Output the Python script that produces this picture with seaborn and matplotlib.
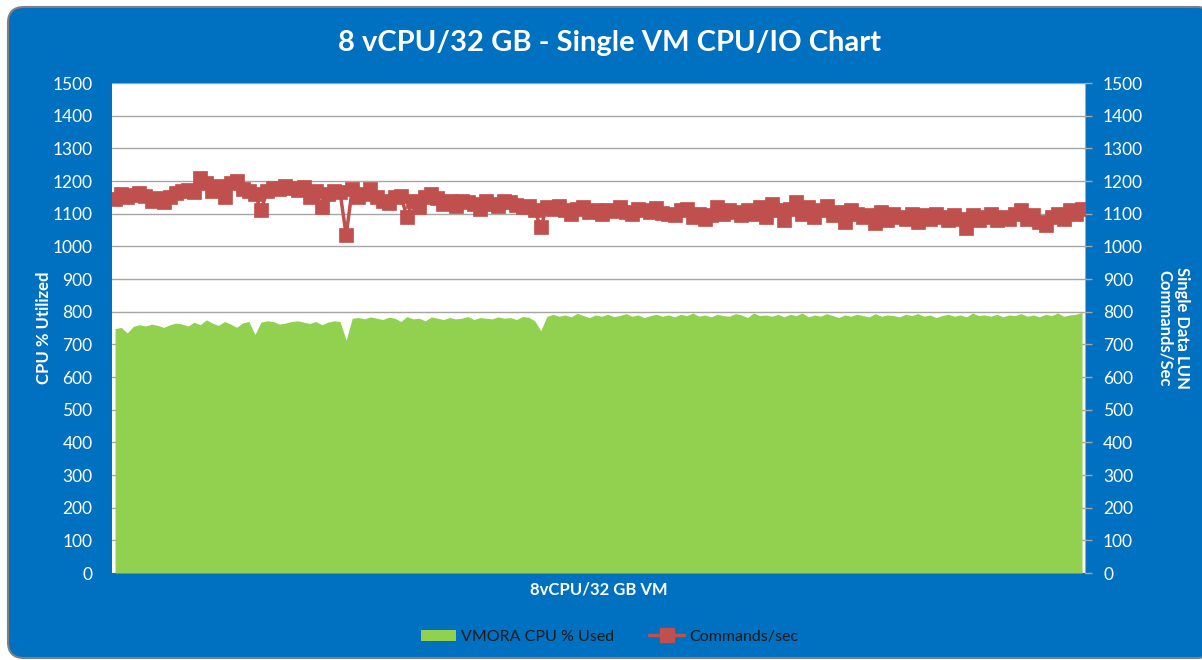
import numpy as np
import pandas as pd
import seaborn as sns
import matplotlib.pyplot as plt
from matplotlib.patches import FancyBboxPatch, Patch
from matplotlib.lines import Line2D

# data (one point per sample)
commands_sec = [
    1145, 1160, 1150, 1158, 1162, 1155, 1140, 1148, 1135, 1150, 1162, 1168, 1172, 1165,
    1208, 1195, 1168, 1185, 1150, 1195, 1200, 1175, 1170, 1160, 1110,
    1170, 1180, 1175, 1185, 1178, 1172, 1182, 1150, 1168, 1120, 1160, 1170, 1165,
    1035,
    1175, 1150, 1160, 1175, 1150, 1140, 1132, 1150, 1155, 1090,
    1140, 1120, 1152, 1160, 1148, 1130, 1140, 1125, 1140, 1135, 1130, 1115, 1140, 1130, 1125,
    1140, 1135, 1128, 1120, 1125, 1110,
    1058,
    1120, 1115, 1125, 1110, 1100, 1115, 1120, 1105, 1110, 1100, 1112, 1108, 1120, 1105, 1100,
    1115, 1110, 1105, 1118, 1102,
    1100, 1095, 1110, 1115, 1090, 1100, 1085, 1095, 1120, 1100, 1110, 1105, 1095, 1110, 1100,
    1120, 1090, 1130, 1110, 1080,
    1115, 1135, 1100, 1120, 1090, 1110, 1125, 1095, 1105, 1075, 1110, 1100, 1090, 1095, 1070,
    1105, 1080, 1100, 1090, 1085,
    1100, 1075, 1095, 1085, 1100, 1090, 1080, 1095, 1085, 1055, 1095, 1080, 1090, 1100, 1080,
    1090, 1085, 1100, 1110, 1085,
    1095, 1075, 1065, 1090, 1100, 1085, 1110, 1100, 1115,
]
cpu_used = [
    748, 752, 735, 755, 760, 756, 762, 758, 752, 760, 765, 762, 756, 768, 760, 775, 765, 758,
    770, 762, 752, 766, 770, 730, 768, 772, 770, 762, 765, 770, 772, 768, 764, 770, 760, 768,
    772, 770,
    712,
    780, 782, 778, 784, 780, 776, 783, 780, 770, 785, 778, 780, 772, 784, 780, 776, 782, 778,
    780, 785, 776, 782, 780, 778, 784, 780, 782, 776, 785, 783, 772,
    742,
    785, 792, 786, 790, 784, 795, 788, 782, 790, 786, 792, 785, 788, 794, 786, 790, 782, 788, 792, 786,
    790, 784, 792, 788, 796, 786, 790, 784, 792, 788, 786, 794, 790, 782, 796, 788, 790, 786, 792, 784,
    792, 788, 796, 784, 790, 786, 794, 788, 782, 790, 786, 792, 788, 784, 794, 786, 790, 788, 784, 792,
    788, 794, 786, 790, 782, 788, 792, 786, 790, 784, 796, 788, 790, 786, 792, 784, 790, 788, 794, 786,
    790, 784, 792, 788, 796, 786, 790, 792, 798,
]
assert len(commands_sec) == len(cpu_used)

df = pd.DataFrame({'sample': np.arange(len(cpu_used)),
                   'cpu': cpu_used,
                   'cmds': commands_sec})

blue = '#0070C0'
green = '#92D050'
red = '#C0504D'
grid = '#A6A6A6'

sns.set_style('white')
plt.rcParams['font.family'] = ['Lato', 'DejaVu Sans']

fig = plt.figure(figsize=(12.02, 6.6), dpi=100, facecolor='white')
frame = FancyBboxPatch((8, 2), 1205, 651, boxstyle='round,pad=0,rounding_size=16',
                       transform=None, facecolor=blue, edgecolor='#7F7F7F',
                       linewidth=1.5, zorder=-1)
fig.patches.append(frame)

ax = fig.add_axes([0.0932, 0.1318, 0.8095, 0.7424])
ax.set_facecolor('white')
ax.fill_between(df['sample'], df['cpu'], 0, color=green, linewidth=0, zorder=2)
ax.set_xlim(-0.5, len(df) - 0.5)
ax.set_ylim(0, 1500)
ax.set_yticks(range(0, 1501, 100))
ax.yaxis.grid(True, color=grid, linewidth=1)
ax.set_axisbelow(True)
ax.set_xticks([])
for s in ax.spines.values():
    s.set_visible(False)
ax.tick_params(axis='y', colors='white', labelsize=12.5, length=0, pad=14)
ax.set_xlabel('8vCPU/32 GB VM', color='white', fontsize=12, fontweight='bold', labelpad=6)
ax.set_ylabel('CPU % Utilized', color='white', fontsize=12, fontweight='bold', labelpad=0)

ax2 = ax.twinx()
sns.lineplot(data=df, x='sample', y='cmds', ax=ax2, color=red, linewidth=2.5,
             marker='s', markersize=10.5, markeredgecolor=red, markeredgewidth=0.5,
             zorder=3)
ax2.set_ylim(0, 1500)
ax2.set_yticks(range(0, 1501, 100))
for s in ax2.spines.values():
    s.set_visible(False)
ax2.spines['right'].set_visible(True)
ax2.spines['right'].set_color(grid)
ax2.tick_params(axis='y', colors=grid, labelcolor='white', labelsize=12.5,
                length=5, width=1, direction='out', pad=8)
ax2.set_xlabel('')
ax2.set_ylabel('Single Data LUN\nCommands/Sec', color='white', fontsize=12,
               fontweight='bold', rotation=-90, labelpad=34, linespacing=1.1)

fig.suptitle('8 vCPU/32 GB - Single VM CPU/IO Chart', color='white', fontsize=21,
             fontweight='bold', x=0.507, y=0.935, va='center')

handles = [Patch(facecolor=green, edgecolor='none'),
           Line2D([], [], color=red, linewidth=2.5, marker='s', markersize=10)]
fig.legend(handles, ['VMORA CPU % Used', 'Commands/sec'], loc='center',
           bbox_to_anchor=(0.507, 0.035), ncol=2, frameon=False, fontsize=11.5,
           handlelength=2.2, columnspacing=2.2, handletextpad=0.3,
           labelcolor='#1a1a1a')

fig.savefig('out.png', dpi=100, facecolor=fig.get_facecolor())
